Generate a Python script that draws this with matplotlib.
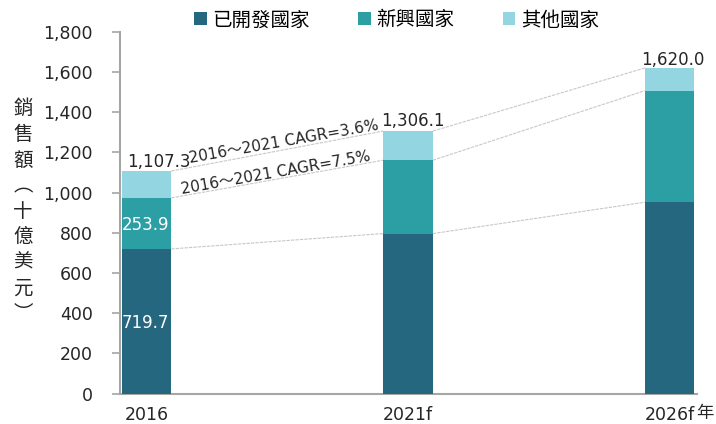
import matplotlib
matplotlib.use("Agg")
import matplotlib.pyplot as plt
from matplotlib.patches import Patch
from matplotlib.ticker import FuncFormatter
import numpy as np

# --- data (十億美元) ---
years = ["2016", "2021f", "2026f"]
developed = [719.7, 796.0, 952.0]
emerging = [253.9, 365.0, 555.0]
totals = [1107.3, 1306.1, 1620.0]
other = [t - d - e for t, d, e in zip(totals, developed, emerging)]
series_names = ["已開發國家", "新興國家", "其他國家"]
cagr_labels = ["2016～2021 CAGR=3.6%", "2016～2021 CAGR=7.5%"]

colors = ["#25677F", "#2C9FA4", "#93D5E0"]
LATIN = ["DejaVu Sans", "Noto Sans CJK TC"]
CJK = ["Noto Sans CJK TC", "DejaVu Sans"]
txt_color = "#262626"

fig = plt.figure(figsize=(7.16, 4.24), dpi=100)
ax = fig.add_axes([0.1676, 0.0719, 0.806, 0.853])

x = np.arange(len(years))
w = 0.19
dev = np.array(developed)
emg = np.array(emerging)
oth = np.array(other)

ax.bar(x, dev, w, color=colors[0], zorder=3)
ax.bar(x, emg, w, bottom=dev, color=colors[1], zorder=3)
ax.bar(x, oth, w, bottom=dev + emg, color=colors[2], zorder=3)

# series lines between bars
for tops in [dev, dev + emg, dev + emg + oth]:
    for i in range(len(x) - 1):
        ax.plot([x[i] + w / 2, x[i + 1] - w / 2], [tops[i], tops[i + 1]],
                color="#C8C8C8", lw=0.8, ls=(0, (3, 1)), zorder=2)

# value labels
vfs = 12
ax.text(x[0] - w / 2 + 0.02, totals[0] + 20, f"{totals[0]:,.1f}", ha="left", va="baseline",
        fontsize=vfs, color=txt_color, family=LATIN, zorder=4)
ax.text(x[1] + 0.019, totals[1] + 25, f"{totals[1]:,.1f}", ha="center", va="baseline",
        fontsize=vfs, color=txt_color, family=LATIN, zorder=4)
ax.text(x[2] + 0.013, totals[2] + 17, f"{totals[2]:,.1f}", ha="center", va="baseline",
        fontsize=vfs, color=txt_color, family=LATIN, zorder=4)
ax.text(x[0] - w / 2, 838, f"{emerging[0]:.1f}", ha="left", va="center",
        fontsize=vfs, color="white", family=LATIN, zorder=4)
ax.text(x[0] - w / 2, 353, f"{developed[0]:.1f}", ha="left", va="center",
        fontsize=vfs, color="white", family=LATIN, zorder=4)

# CAGR labels
ax.text(0.527, 1252, cagr_labels[0], ha="center", va="center", rotation=10,
        fontsize=11, color=txt_color, family=LATIN, zorder=4)
ax.text(0.495, 1100, cagr_labels[1], ha="center", va="center", rotation=10,
        fontsize=11, color=txt_color, family=LATIN, zorder=4)

ax.set_xlim(-0.101, 2.105)
ax.set_ylim(0, 1800)
ax.set_yticks(np.arange(0, 1801, 200))
ax.yaxis.set_major_formatter(FuncFormatter(lambda v, p: f"{v:,.0f}"))
ax.set_xticks(x)
ax.set_xticklabels(years)
for lbl in ax.get_xticklabels() + ax.get_yticklabels():
    lbl.set_family(LATIN)
    lbl.set_fontsize(12.5)
    lbl.set_color(txt_color)

for s in ["top", "right"]:
    ax.spines[s].set_visible(False)
for s in ["left", "bottom"]:
    ax.spines[s].set_color("#A6A6A6")
    ax.spines[s].set_linewidth(1.5)
ax.tick_params(axis="y", direction="out", length=5.5, color="#A6A6A6", width=1.2, pad=14)
ax.tick_params(axis="x", length=0, pad=9)

fig.text(696 / 716, 0.026, "年", ha="left", va="center", fontsize=12.5, color=txt_color,
         family=CJK)

# y label, vertical stacked characters
ylab = "銷售額︵十億美元︶"
fig.text(0.032, 0.502, "\n".join(ylab), ha="center", va="center", fontsize=14,
         color=txt_color, family=CJK, linespacing=1.29)

handles = [Patch(facecolor=c, edgecolor="none") for c in colors]
fig.legend(handles, series_names, loc="center", bbox_to_anchor=(0.554, 0.953),
           ncol=3, frameon=False, prop={"family": CJK, "size": 14},
           handlelength=0.62, handleheight=0.62, handletextpad=0.3, columnspacing=2.5,
           borderpad=0)

fig.savefig("out.png", dpi=100)
